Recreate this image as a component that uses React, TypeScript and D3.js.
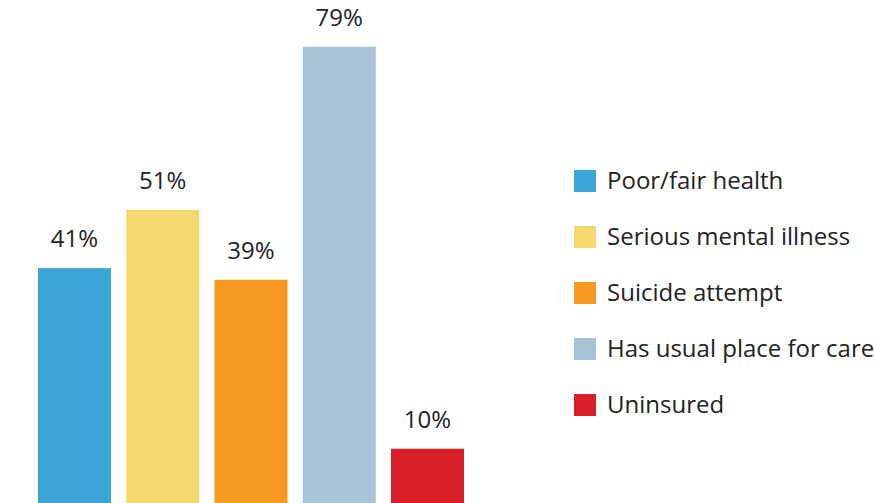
import { useEffect, useRef } from "react";
import * as d3 from "d3";

const categories = [
  "Poor/fair health",
  "Serious mental illness",
  "Suicide attempt",
  "Has usual place for care",
  "Uninsured",
];
const values = [41, 51, 39, 79, 10];
const colors = ["#3ba6d6", "#f5d86e", "#f89a1f", "#a7c4d6", "#d81f2a"];

export default function App() {
  const svgRef = useRef<SVGSVGElement>(null);

  useEffect(() => {
    if (!svgRef.current) return;
    const width = 874;
    const height = 503;

    const svg = d3.select(svgRef.current);
    svg.selectAll("*").remove();
    svg.attr("width", width).attr("height", height);

    const x = d3
      .scaleBand<string>()
      .domain(categories)
      .range([38, 464])
      .paddingInner(0.173)
      .paddingOuter(0);

    // baseline sits just below the visible area
    const y = d3.scaleLinear().domain([0, 100]).range([507, -75.6]);

    const font = "'Open Sans', 'Noto Sans', sans-serif";

    // Bars
    svg
      .append("g")
      .selectAll("rect")
      .data(categories)
      .join("rect")
      .attr("x", (d) => x(d)!)
      .attr("y", (_, i) => y(values[i]))
      .attr("width", x.bandwidth())
      .attr("height", (_, i) => y(0) - y(values[i]))
      .attr("fill", (_, i) => colors[i]);

    // Value labels
    svg
      .append("g")
      .selectAll("text")
      .data(categories)
      .join("text")
      .attr("x", (d) => x(d)! + x.bandwidth() / 2)
      .attr("y", (_, i) => y(values[i]) - 21)
      .attr("text-anchor", "middle")
      .attr("fill", "#222")
      .style("font-family", font)
      .style("font-size", "24px")
      .text((_, i) => `${values[i]}%`);

    // Legend
    const ly = d3.scalePoint<string>().domain(categories).range([181, 405]);
    const legend = svg
      .append("g")
      .selectAll("g")
      .data(categories)
      .join("g")
      .attr("transform", (d) => `translate(574,${ly(d)})`);

    legend
      .append("rect")
      .attr("x", 0)
      .attr("y", -11)
      .attr("width", 22)
      .attr("height", 22)
      .attr("fill", (_, i) => colors[i]);

    legend
      .append("text")
      .attr("x", 33)
      .attr("y", 0)
      .attr("dy", "0.35em")
      .attr("fill", "#222")
      .style("font-family", font)
      .style("font-size", "24px")
      .text((d) => d);
  }, []);

  return (
    <div style={{ position: "absolute", left: 0, top: 0 }}>
      <svg ref={svgRef} style={{ display: "block" }}></svg>
    </div>
  );
}
